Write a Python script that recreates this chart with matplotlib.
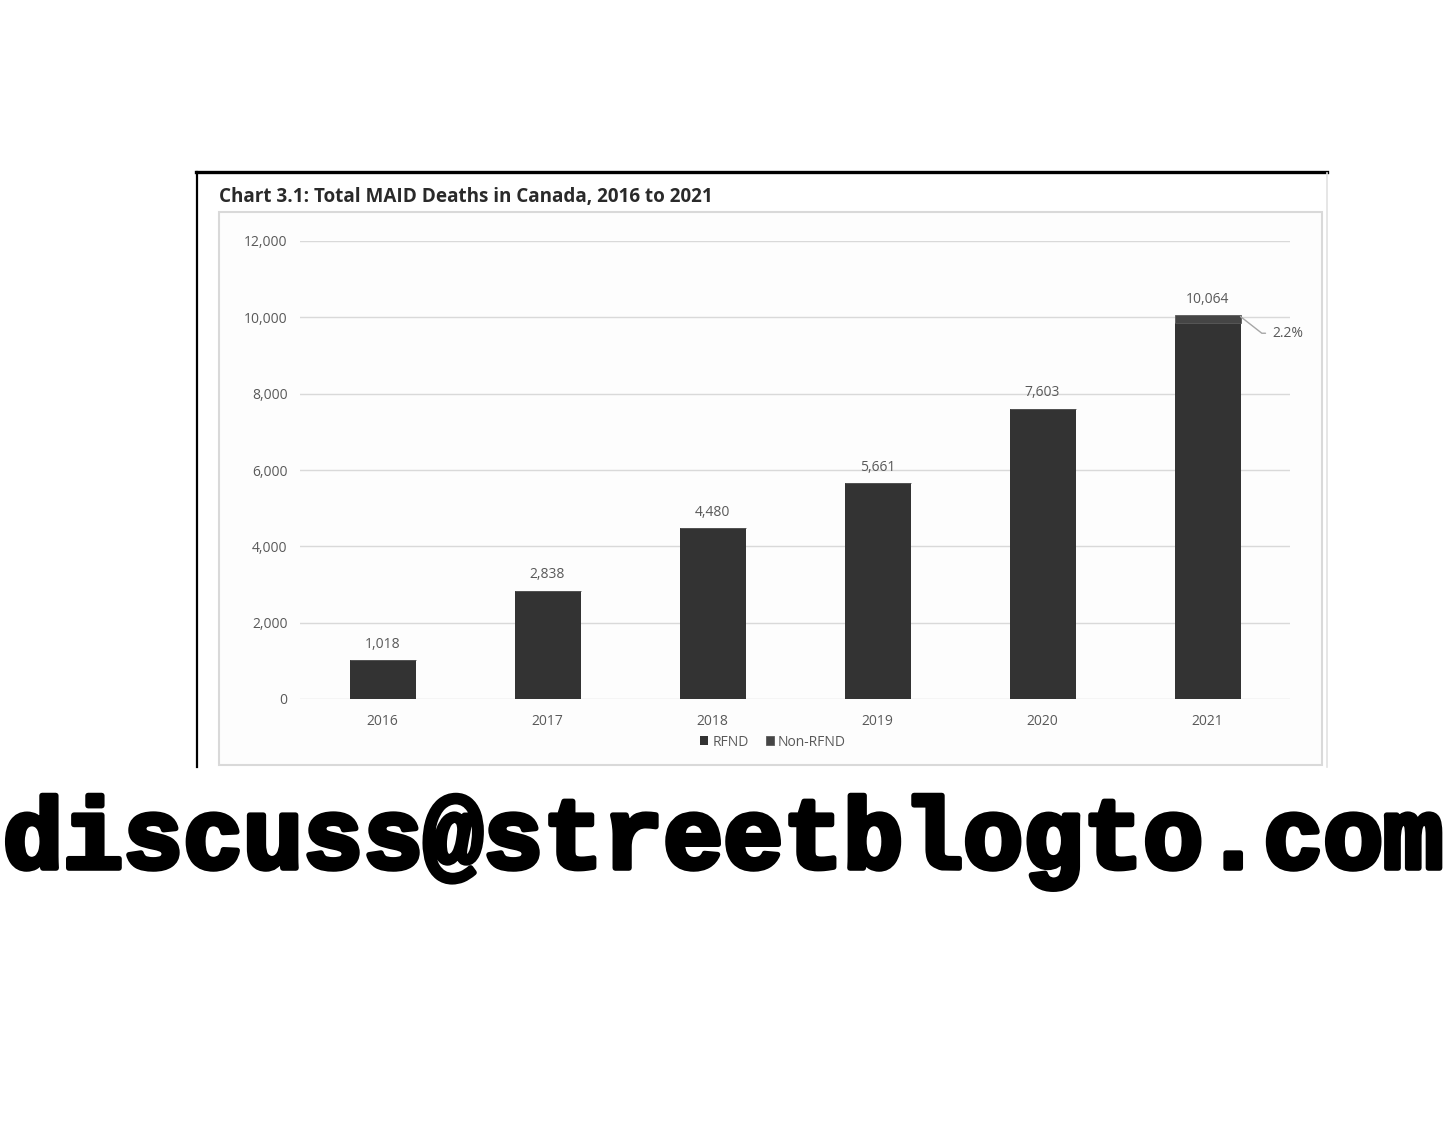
import matplotlib
matplotlib.use('Agg')
import matplotlib.pyplot as plt
from matplotlib.lines import Line2D
from matplotlib.patches import Rectangle
import matplotlib.patheffects as pe

W, H = 1456, 1125

years = ['2016', '2017', '2018', '2019', '2020', '2021']
rfnd = [1018, 2838, 4480, 5661, 7603, 9843]
non_rfnd = [0, 0, 0, 0, 0, 221]
yticks = [0, 2000, 4000, 6000, 8000, 10000, 12000]
share_label = '2.2%'

plt.rcParams['font.family'] = ['Open Sans', 'DejaVu Sans']


def fx(x):
	return x / W


def fy(y):
	return 1 - y / H


fig = plt.figure(figsize=(W / 100, H / 100), dpi=100)

# frame pieces from the screenshot
fig.add_artist(Line2D([fx(196), fx(1327)], [fy(172), fy(172)], color='black', lw=2.4, zorder=-1))
fig.add_artist(Line2D([fx(197), fx(197)], [fy(172), fy(767)], color='black', lw=1.6, zorder=-1))
fig.add_artist(Line2D([fx(1327), fx(1327)], [fy(173), fy(767)], color='#e2e2e2', lw=1.2, zorder=-1))
fig.add_artist(Rectangle((fx(219), fy(765)), fx(1322) - fx(219), fy(212) - fy(765),
	facecolor='#fdfdfd', edgecolor='#d9d9d9', lw=1.5, zorder=-1))

fig.text(fx(219), fy(197), 'Chart 3.1: Total MAID Deaths in Canada, 2016 to 2021',
	fontsize=13.6, fontweight='bold', color='#2a2a2a', va='center', ha='left')

ax = fig.add_axes([fx(300), fy(699), fx(1290) - fx(300), fy(241) - fy(699)])
ax.set_facecolor('none')
ax.set_zorder(2)

x = list(range(len(years)))
b1 = ax.bar(x, rfnd, width=0.4, color='#333333', zorder=3, label='RFND')
b2 = ax.bar(x, non_rfnd, width=0.4, bottom=rfnd, color='#454545', zorder=3,
	label='Non-RFND', edgecolor='#5a5a5a', linewidth=0.6)

for i in x:
	total = rfnd[i] + non_rfnd[i]
	ax.annotate(f'{total:,}', (i, total), xytext=(0, 6), textcoords='offset points',
		ha='center', va='bottom', fontsize=10, color='#595959')

last = len(years) - 1
ax.annotate(share_label, (last + 0.2, rfnd[last] + non_rfnd[last] * 0.8),
	xytext=(23, -12), textcoords='offset points', ha='left', va='center',
	fontsize=10, color='#595959',
	arrowprops=dict(arrowstyle='-', color='#a6a6a6', lw=1.0, shrinkA=3, shrinkB=0,
		connectionstyle='angle,angleA=0,angleB=-38,rad=0'))

ax.set_xlim(-0.5, len(years) - 0.5)
ax.set_ylim(0, 12000)
ax.set_yticks(yticks)
ax.set_yticklabels([f'{v:,}' for v in yticks])
ax.set_xticks(x)
ax.set_xticklabels(years)
ax.tick_params(axis='both', length=0, labelsize=10, labelcolor='#595959')
ax.tick_params(axis='y', pad=9)
ax.tick_params(axis='x', pad=10.5)
for s in ax.spines.values():
	s.set_visible(False)
ax.yaxis.grid(True, color='#d9d9d9', lw=1.0, zorder=0)
ax.set_axisbelow(True)

fig.legend(handles=[b1, b2], loc='center', bbox_to_anchor=(fx(773), fy(742)), ncol=2,
	frameon=False, fontsize=10, labelcolor='#595959', handlelength=0.6, handleheight=0.6,
	handletextpad=0.3, columnspacing=1.2)

fig.text(fx(3), fy(868), 'discuss@streetblogto.com', fontsize=72, fontweight='bold',
	fontfamily='Liberation Mono', color='black', ha='left', va='baseline',
	path_effects=[pe.withStroke(linewidth=4, foreground='black')])

fig.savefig('out.png', dpi=100, facecolor='white')
